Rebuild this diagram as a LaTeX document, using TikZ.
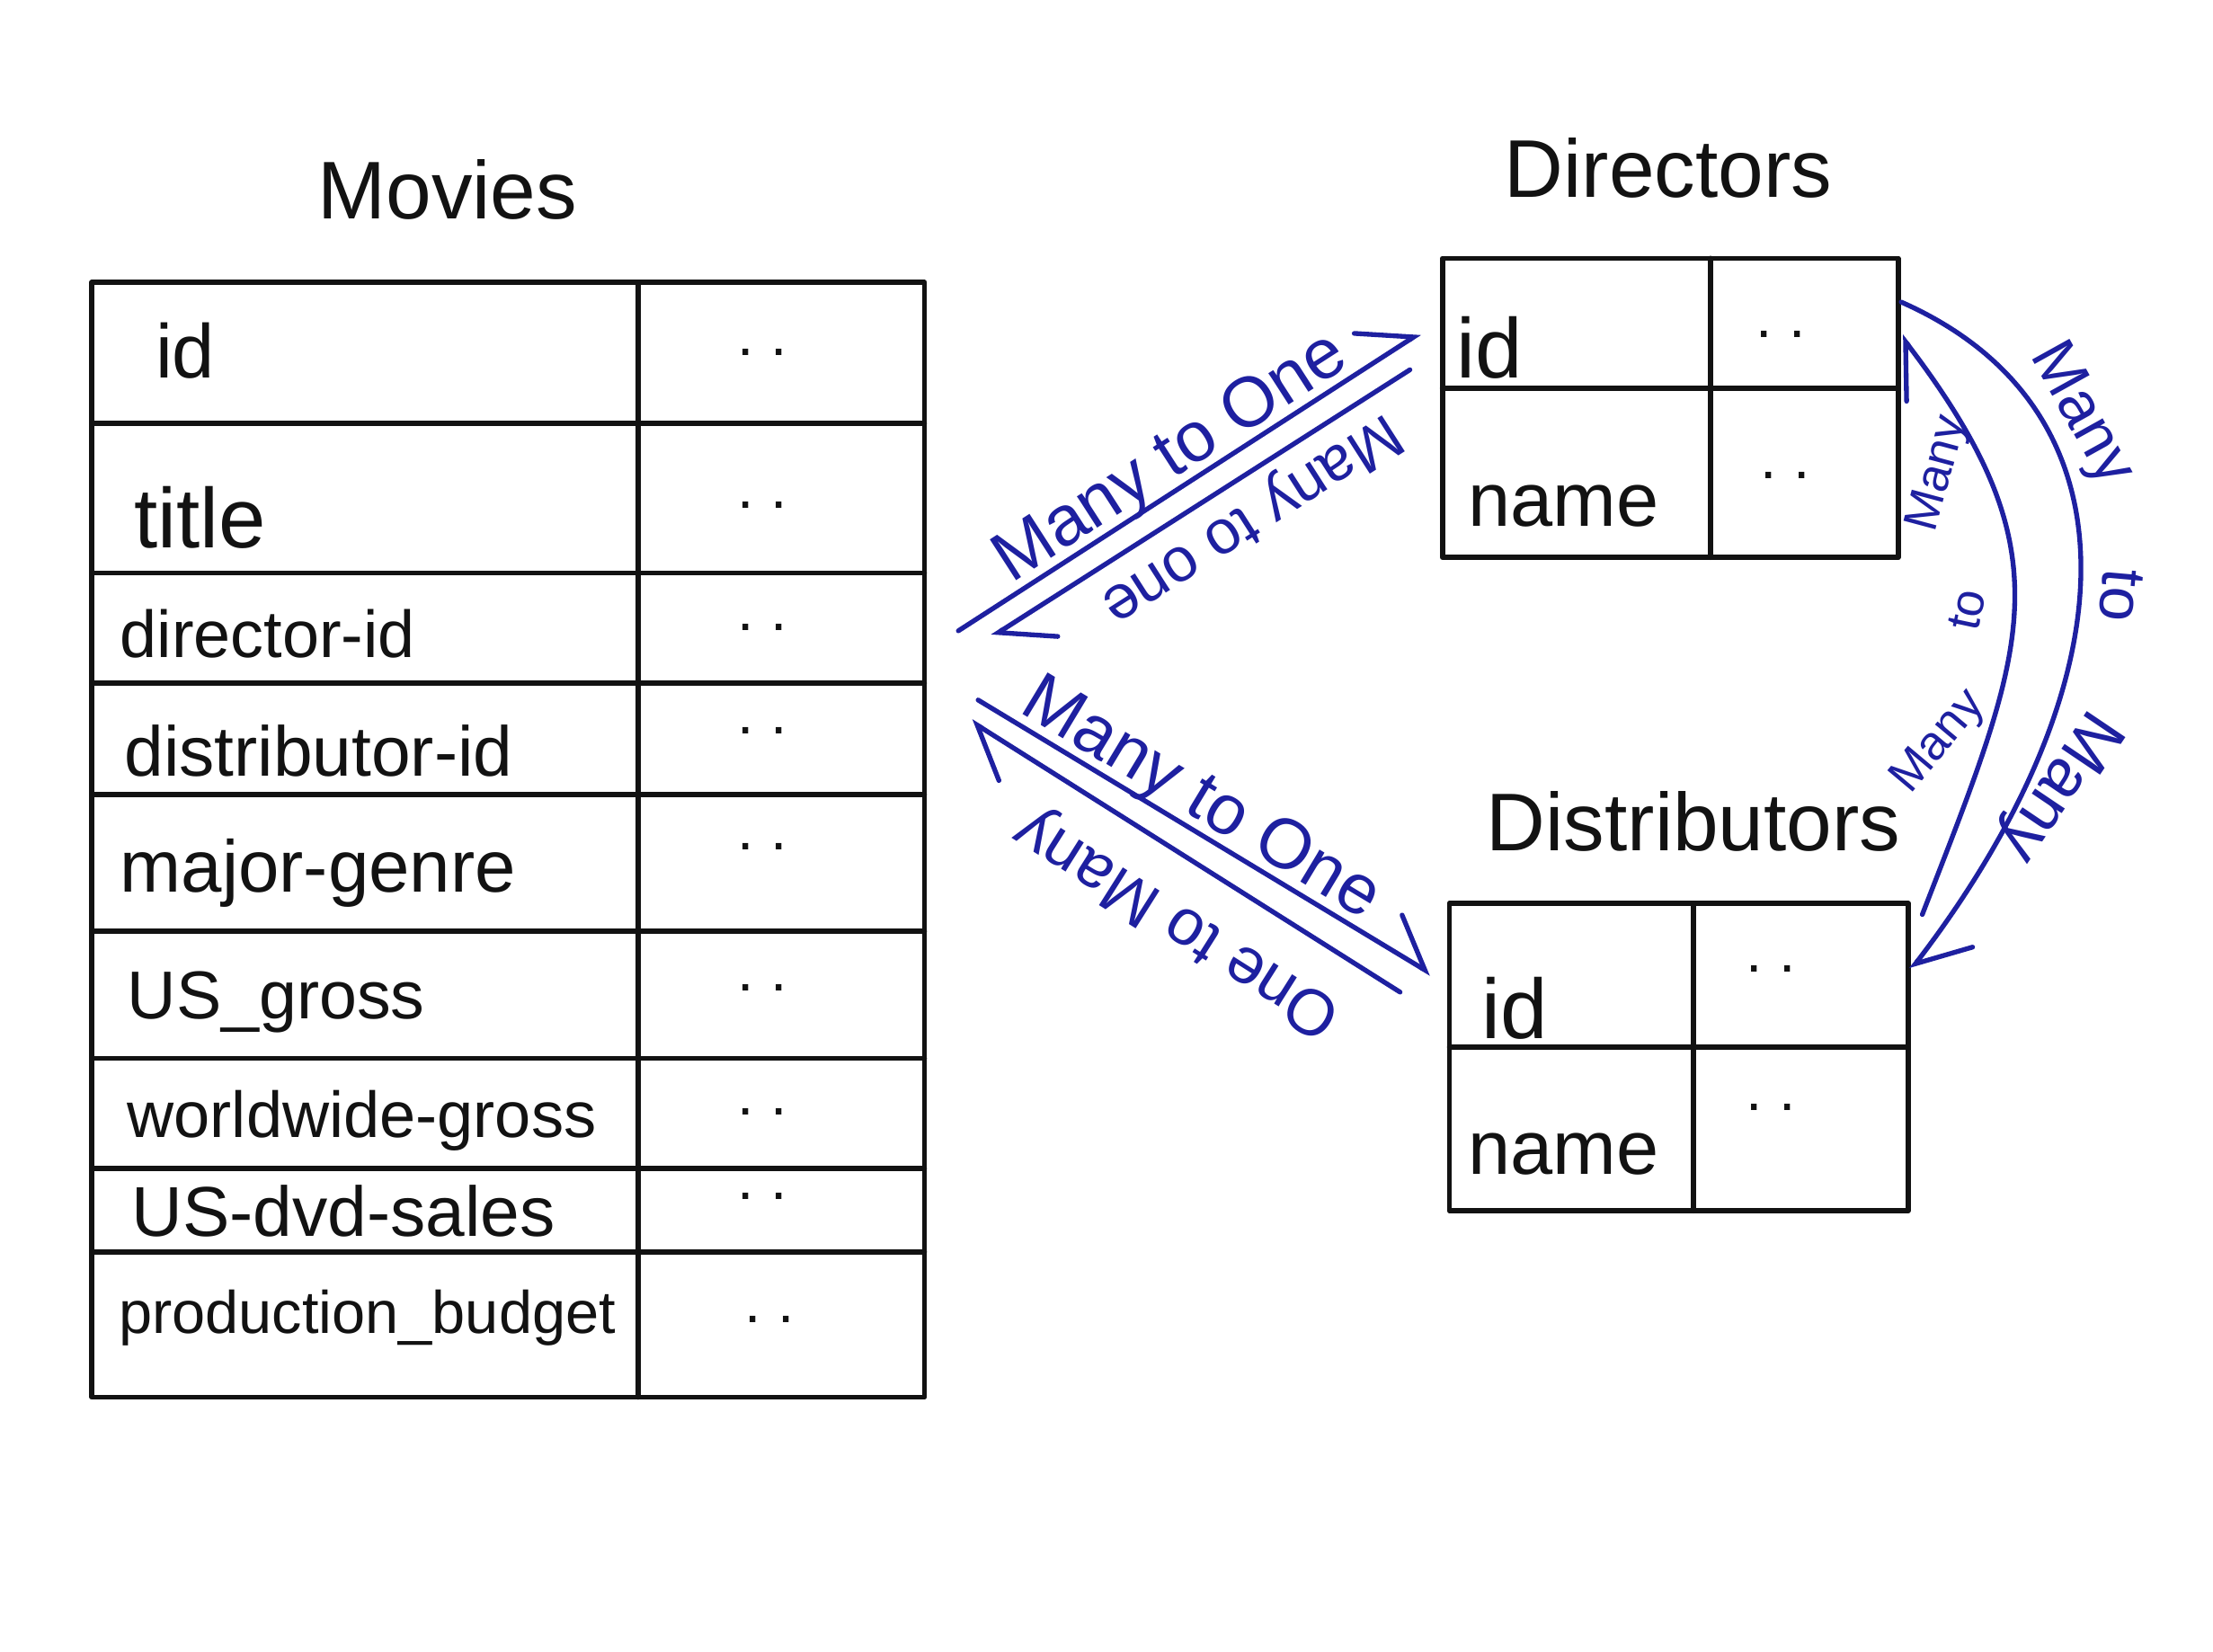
\documentclass[tikz,border=0pt]{standalone}
\usepackage{fontspec}
\setmainfont{Liberation Sans}
\usetikzlibrary{arrows.meta}
\definecolor{ink}{RGB}{18,18,18}
\definecolor{pen}{RGB}{30,32,160}
\newcommand{\fsz}[1]{\fontsize{#1}{#1}\selectfont}
\begin{document}
\begin{tikzpicture}[x=1pt,y=-1pt,
  grid/.style={line width=3.6pt, draw=ink, line cap=round, line join=round},
  title/.style={font=\fsz{58}, text=ink, inner sep=0pt, anchor=base},
  field/.style={font=\fsz{44}, text=ink, inner sep=0pt, anchor=base west},
  cell/.style={font=\fsz{54}, text=ink, inner sep=0pt, anchor=base west},
  dots/.style={font=\fsz{42}, text=ink, inner sep=0pt, anchor=base},
  rel/.style={line width=3.4pt, draw=pen, line cap=round, -{Straight Barb[left,length=34pt,width=50pt,line cap=round]}},
  rellabel/.style={font=\fsz{50}, text=pen, inner sep=0pt},
  outerlabel/.style={font=\fsz{44}, text=pen, inner sep=0pt},
  innerlabel/.style={font=\fsz{34}, text=pen, inner sep=0pt}
]
\fill[white] (0,0) rectangle (1568,1170);
\useasboundingbox (0,0) rectangle (1568,1170);

% ---------- Movies ----------
\node[title] (t-movies) at (317,155) {Movies};
\draw[grid] (65,200) rectangle (655,990);
\draw[grid] (452,200) -- (452,990);
\foreach \y in {300,406,484,563,660,750,828,887} \draw[grid] (65,\y) -- (655,\y);

\node[field, font=\fsz{54}] (m-id)     at (110,268) {id};
\node[field, font=\fsz{60}] (m-title)  at (95,388) {title};
\node[field, font=\fsz{47}] (m-dir)    at (85,466) {director-id};
\node[field, font=\fsz{50}] (m-dist)   at (88,550) {distributor-id};
\node[field, font=\fsz{52}] (m-genre)  at (85,632) {major-genre};
\node[field, font=\fsz{48}] (m-usg)    at (90,722) {US\_gross};
\node[field, font=\fsz{46}] (m-wwg)    at (90,806) {worldwide-gross};
\node[field, font=\fsz{50}] (m-dvd)    at (93,876) {US-dvd-sales};
\node[field, font=\fsz{42.5}] (m-budget) at (84,945) {production\_budget};

\node[dots] (md1) at (540,252) {.\kern12pt.};
\node[dots] (md2) at (540,360) {.\kern12pt.};
\node[dots] (md3) at (540,447) {.\kern12pt.};
\node[dots] (md4) at (540,520) {.\kern12pt.};
\node[dots] (md5) at (540,602) {.\kern12pt.};
\node[dots] (md6) at (540,702) {.\kern12pt.};
\node[dots] (md7) at (540,790) {.\kern12pt.};
\node[dots] (md8) at (540,850) {.\kern12pt.};
\node[dots] (md9) at (545,937) {.\kern12pt.};

% ---------- Directors ----------
\node[title] (t-dir) at (1182,140) {Directors};
\draw[grid] (1022,183) rectangle (1345,395);
\draw[grid] (1212,183) -- (1212,395);
\draw[grid] (1022,275) -- (1345,275);
\node[cell, font=\fsz{60}] (d-id)   at (1032,268) {id};
\node[cell] (d-name) at (1040,373) {name};
\node[dots] (dd1) at (1262,239) {.\kern12pt.};
\node[dots] (dd2) at (1265,339) {.\kern12pt.};

% ---------- Distributors ----------
\node[title] (t-dist) at (1200,603) {Distributors};
\draw[grid] (1027,640) rectangle (1352,858);
\draw[grid] (1200,640) -- (1200,858);
\draw[grid] (1027,742) -- (1352,742);
\node[cell, font=\fsz{60}] (s-id)   at (1050,736) {id};
\node[cell] (s-name) at (1040,832) {name};
\node[dots] (sd1) at (1255,689) {.\kern12pt.};
\node[dots] (sd2) at (1255,787) {.\kern12pt.};

% ---------- connector end points ----------
\coordinate (a1s) at (679,447);  \coordinate (a1e) at (1006,236);
\coordinate (a2s) at (999,262);  \coordinate (a2e) at (703,451);
\coordinate (a3s) at (693,496);  \coordinate (a3e) at (1014,690);
\coordinate (a4s) at (992,703);  \coordinate (a4e) at (688,511);
\coordinate (c1s) at (1347,214); \coordinate (c1e) at (1354,687);
\coordinate (c2s) at (1362,648); \coordinate (c2e) at (1347,238);

\draw[rel] (a1s) -- (a1e);
\draw[rel] (a2s) -- (a2e);
\draw[rel] (a3s) -- (a3e);
\draw[rel] (a4s) -- (a4e);
\draw[rel] (c1s) .. controls (1519,290) and (1511,482) .. (c1e);
\draw[rel] (c2s) .. controls (1436,457) and (1466,394) .. (c2e);

% ---------- labels ----------
\node[rellabel, rotate=32.8, anchor=base] (l1) at (837,336) {Many to One};
\node[rellabel, rotate=212.6, font=\fsz{44}] (l2) at (886,367) {Many to one};
\node[rellabel, rotate=-31.1, anchor=base] (l3) at (844,578) {Many to One};
\node[rellabel, rotate=147.7, font=\fsz{46}] (l4) at (835,653) {One to Many};

\node[outerlabel, rotate=-61]  (o1) at (1474,294) {Many};
\node[outerlabel, rotate=-95]  (o2) at (1503,422) {to};
\node[outerlabel, rotate=-124, font=\fsz{48}] (o3) at (1458,556) {Many};
\node[innerlabel, rotate=50]   (i1) at (1374,526) {Many};
\node[innerlabel, rotate=78]   (i2) at (1394,432) {to};
\node[innerlabel, rotate=75]   (i3) at (1374,336) {Many};
\end{tikzpicture}
\end{document}
